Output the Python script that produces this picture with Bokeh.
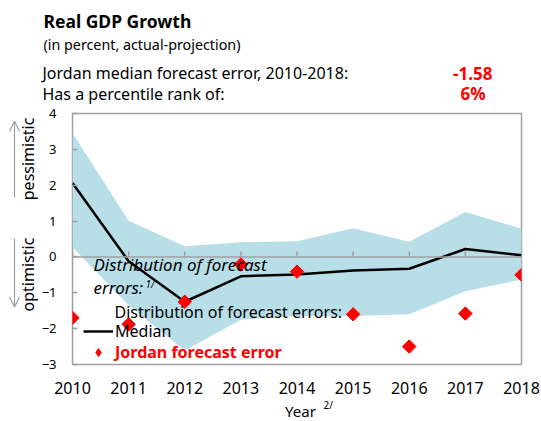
import numpy as np
from bokeh.plotting import figure
from bokeh.layouts import column, row
from bokeh.models import (ColumnDataSource, FixedTicker, Label, Legend, LegendItem,
                          Arrow, OpenHead, Span, Range1d)
from bokeh.embed import file_html
from bokeh.resources import INLINE

years = [2010, 2011, 2012, 2013, 2014, 2015, 2016, 2017, 2018]
band_upper = [3.45, 1.01, 0.30, 0.41, 0.44, 0.80, 0.42, 1.25, 0.79]
band_lower = [0.27, -1.35, -2.61, -1.75, -1.65, -1.65, -1.60, -0.96, -0.63]
median = [2.06, -0.12, -1.25, -0.54, -0.49, -0.38, -0.33, 0.22, 0.05]
jordan = [-1.70, -1.88, -1.25, -0.21, -0.41, -1.60, -2.50, -1.58, -0.50]
y_ticks = [-3, -2, -1, 0, 1, 2, 3, 4]

FONT = "Noto Sans"
GRAY = "#A0A0A0"

HEAD_H, TOP_B, FRAME_H, BOT_B = 104, 9, 251, 33
MAIN_TOP = HEAD_H
MAIN_H = TOP_B + FRAME_H + BOT_B
FOOT_TOP = HEAD_H + MAIN_H
STRIP_W, LEFT_B, FRAME_W, RIGHT_B = 38, 33, 449, 21


def blank(w, h, y0, y1):
    f = figure(width=w, height=h, output_backend="svg", toolbar_location=None,
               x_range=Range1d(0, w), y_range=Range1d(y1, y0),
               x_axis_location=None, y_axis_location=None, min_border=0)
    f.grid.visible = False
    f.outline_line_color = None
    return f


def lab(f, text, x, y, size, style="normal", color="black", align="left",
        baseline="alphabetic", angle=0, units="data"):
    f.add_layout(Label(x=x, y=y, x_units=units, y_units=units, text=text,
                       text_font=FONT, text_font_size=size, text_font_style=style,
                       text_color=color, text_align=align, text_baseline=baseline,
                       angle=angle))


# ---------- header ----------
head = blank(541, HEAD_H, 0, HEAD_H)
lab(head, "Real GDP Growth", 43, 20.5, "17.5px", "bold")
lab(head, "(in percent, actual-projection)", 43, 44, "14.3px")
lab(head, "Jordan median forecast error, 2010-2018:", 42, 72.5, "16px")
lab(head, "Has a percentile rank of:", 42, 93, "16px")
lab(head, "-1.58", 492, 72.5, "17px", "bold", "red", "right")
lab(head, "6%", 485, 93, "17px", "bold", "red", "right")

# ---------- left strip ----------
left = blank(STRIP_W, MAIN_H, MAIN_TOP, FOOT_TOP)
lab(left, "pessimistic", 27, 157, "16px", align="center", baseline="middle", angle=np.pi / 2)
lab(left, "optimistic", 27, 292, "16px", align="center", baseline="middle", angle=np.pi / 2)
left.add_layout(Arrow(x_start=14, y_start=202, x_end=14, y_end=113, line_color=GRAY,
                      line_width=1.2, end=OpenHead(size=10, line_color=GRAY, line_width=1.2)))
left.add_layout(Arrow(x_start=14, y_start=250, x_end=14, y_end=330, line_color=GRAY,
                      line_width=1.2, end=OpenHead(size=10, line_color=GRAY, line_width=1.2)))

# ---------- main chart ----------
src = ColumnDataSource(dict(year=years, lo=band_lower, hi=band_upper, med=median, jor=jordan))

p = figure(frame_width=FRAME_W, frame_height=FRAME_H, output_backend="svg", toolbar_location=None,
           x_range=Range1d(2010, 2018), y_range=Range1d(-3, 4),
           min_border_left=LEFT_B, min_border_right=RIGHT_B,
           min_border_top=TOP_B, min_border_bottom=BOT_B)
p.grid.visible = False
p.outline_line_color = GRAY
p.outline_line_width = 1.5

p.varea(x="year", y1="lo", y2="hi", source=src, fill_color="#B8DEE8")
p.add_layout(Span(location=0, dimension="width", line_color=GRAY, line_width=1.5))
p.segment(x0=years, y0=[0] * len(years), x1=years, y1=[0.15] * len(years),
          line_color=GRAY, line_width=1.5)
med = p.line(x="year", y="med", source=src, line_color="black", line_width=2.5)
p.scatter(x="year", y="jor", source=src, marker="square", angle=np.pi / 4,
          size=9.5, fill_color="red", line_color="red")
# legend proxy (legend glyphs are drawn unrotated); its single point is off-chart (NaN)
jor_leg = p.scatter(x=[float("nan")], y=[float("nan")], marker="diamond", size=11,
                    fill_color="red", line_color="red")

p.xaxis.ticker = FixedTicker(ticks=years)
p.yaxis.ticker = FixedTicker(ticks=y_ticks)
for ax in (p.xaxis[0], p.yaxis[0]):
    ax.axis_line_color = None
    ax.major_label_text_font = FONT
    ax.major_label_text_color = "black"
    ax.minor_tick_line_color = None
p.xaxis.major_tick_line_color = None
p.xaxis.major_label_text_font_size = "16px"
p.xaxis.major_label_standoff = 11
p.yaxis.major_tick_in = 5
p.yaxis.major_tick_out = 0
p.yaxis.major_tick_line_color = GRAY
p.yaxis.major_tick_line_width = 1.5
p.yaxis.major_label_text_font_size = "13px"
p.yaxis.major_label_standoff = 16

FL, FB = STRIP_W + LEFT_B, HEAD_H + TOP_B + FRAME_H  # frame left / bottom in page px
lab(p, "Distribution of forecast", 92 - FL, FB - 264, "17px", "italic", baseline="middle", units="screen")
lab(p, "errors:", 92 - FL, FB - 287, "17px", "italic", baseline="middle", units="screen")
lab(p, "1/", 144 - FL, FB - 283, "10px", "italic", baseline="middle", units="screen")
lab(p, "Distribution of forecast errors:", 113 - FL, FB - 311, "16px", baseline="middle", units="screen")

common = dict(background_fill_alpha=0, border_line_color=None, padding=0, margin=0,
              glyph_width=30, glyph_height=20, label_height=20, label_standoff=2,
              label_text_font=FONT, label_text_font_size="16px")
p.add_layout(Legend(items=[LegendItem(label="Median", renderers=[med])],
                    location=(11, 22), label_text_color="black", **common))
p.add_layout(Legend(items=[LegendItem(label="Jordan forecast error", renderers=[jor_leg])],
                    location=(11, 1), label_text_color="red", label_text_font_style="bold", **common))

# ---------- footer ----------
foot = blank(541, 421 - FOOT_TOP, FOOT_TOP, 421)
lab(foot, "Year", 300, 410, "15px", align="center", baseline="middle")
lab(foot, "2/", 323, 404, "10px", baseline="middle")

layout = column(head, row(left, p), foot)
open("out.html", "w").write(file_html(layout, INLINE))
